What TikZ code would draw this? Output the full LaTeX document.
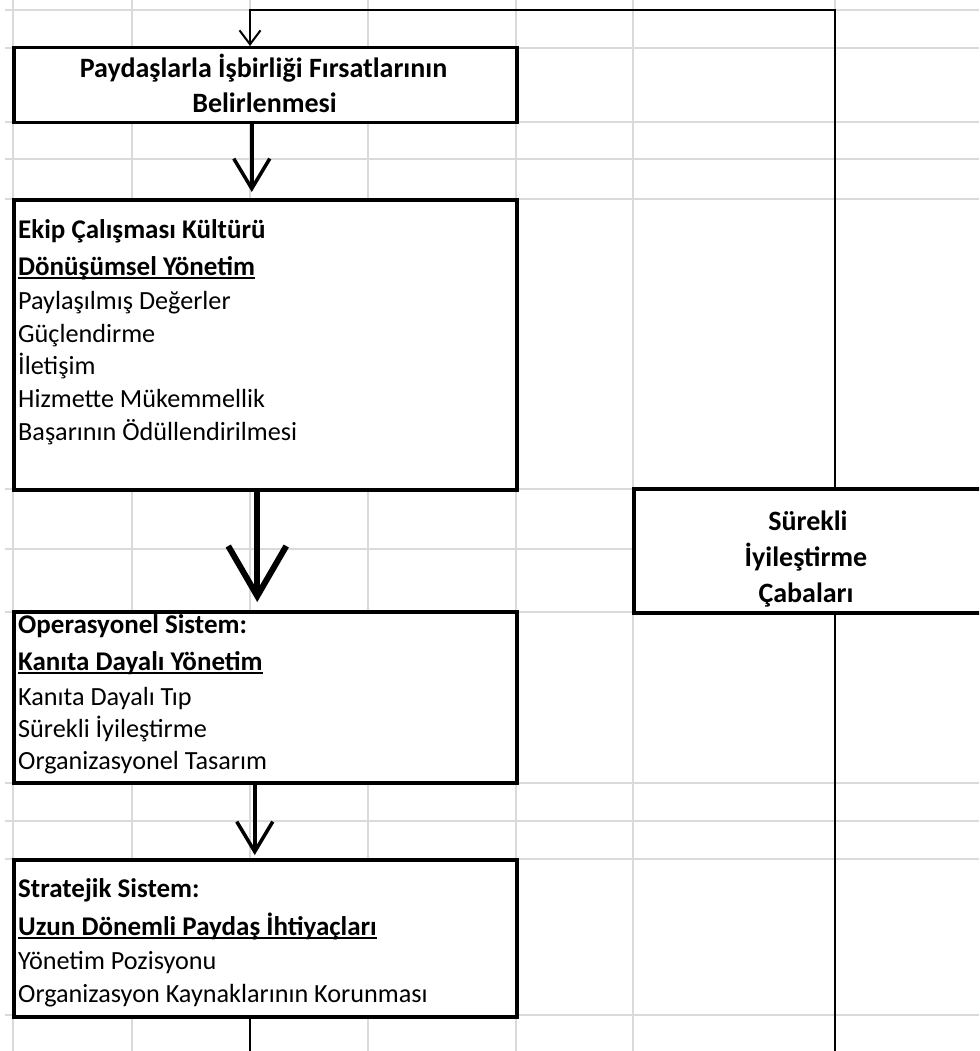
\documentclass[tikz,border=0pt]{standalone}
\usepackage{fontspec}
\setmainfont{Carlito}
\usetikzlibrary{arrows.meta}

\definecolor{izgara}{HTML}{DADADA}
\newsavebox{\cizgikutu}
\newcommand{\altciz}[1]{\sbox{\cizgikutu}{#1}\rlap{\usebox{\cizgikutu}}\rule[-3.5pt]{\wd\cizgikutu}{1.6pt}}

\tikzset{
  kutu/.style={draw, line width=3.5pt, fill=white, anchor=north west, inner sep=0pt},
  madde/.style={anchor=base west, inner sep=0pt, font=\fontsize{26.2}{33}\selectfont},
  orta/.style={anchor=base, inner sep=0pt, font=\fontsize{28}{33}\selectfont\bfseries},
  ok/.style={line width=3.5pt, -{Straight Barb[length=30pt,width=36pt]}, shorten >=6pt},
  kalinok/.style={line width=6pt, -{Straight Barb[length=50pt,width=58pt]}, shorten >=8pt},
  donus/.style={line width=2pt},
  donusok/.style={line width=2pt, -{Straight Barb[length=14pt,width=21pt]}}
}

\begin{document}
\begin{tikzpicture}[x=1pt,y=-1pt]
        \useasboundingbox (0,0) rectangle (979,1051);
        \clip (0,0) rectangle (979,1051);
        % tablo izgarasi
        \foreach \gx in {13,132,250,368,516,633,835}
            \draw[izgara, line width=1.2pt] (\gx,0) -- (\gx,1051);
        \foreach \gy in {10,48,122,159,199,489,549,612,783,821,859,1015}
            \draw[izgara, line width=1.2pt] (5,\gy) -- (979,\gy);

        % kutular
        \node[kutu, minimum width=503pt, minimum height=75pt] (firsat) at (12,46) {};
        \node[kutu, minimum width=503pt, minimum height=290pt] (ekip) at (12,198) {};
        \node[kutu, minimum width=503pt, minimum height=171pt] (operasyon) at (12,610) {};
        \node[kutu, minimum width=503pt, minimum height=157pt] (strateji) at (12,858) {};
        \node[kutu, minimum width=358pt, minimum height=124pt] (iyilestirme) at (632,487) {};

        \node[orta] (firsat-1) at (263.5,78) {Paydaşlarla İşbirliği Fırsatlarının};
        \node[orta] (firsat-2) at (264.5,113) {Belirlenmesi};
        \node[orta] (iyi-1) at (808,530) {Sürekli};
        \node[orta] (iyi-2) at (806,566) {İyileştirme};
        \node[orta] (iyi-3) at (806,602) {Çabaları};

        \foreach \satir/\y [count=\i] in {{\textbf{\fontsize{27}{33}\selectfont Ekip Çalışması Kültürü}}/238,
            {\textbf{\fontsize{27}{33}\selectfont\altciz{Dönüşümsel Yönetim}}}/275, Paylaşılmış Değerler/309,
            Güçlendirme/342, İletişim/374, Hizmette Mükemmellik/407,
            Başarının Ödüllendirilmesi/440}
            \node[madde] (ekip-\i) at (18,\y) {\satir};
        \foreach \satir/\y [count=\i] in {{\textbf{\fontsize{27}{33}\selectfont Operasyonel Sistem:}}/633,
            {\textbf{\fontsize{27}{33}\selectfont\altciz{Kanıta Dayalı Yönetim}}}/670, Kanıta Dayalı Tıp/705,
            Sürekli İyileştirme/737, Organizasyonel Tasarım/769}
            \node[madde] (operasyon-\i) at (18,\y) {\satir};
        \foreach \satir/\y [count=\i] in {{\textbf{\fontsize{27}{33}\selectfont Stratejik Sistem:}}/897,
            {\textbf{\fontsize{27}{33}\selectfont\altciz{Uzun Dönemli Paydaş İhtiyaçları}}}/935,
            Yönetim Pozisyonu/969, Organizasyon Kaynaklarının Korunması/1002}
            \node[madde] (strateji-\i) at (18,\y) {\satir};

        % oklar
        \draw[ok] ([xshift=-13.5pt]firsat.south) -- ([xshift=-13.5pt]ekip.north);
        \draw[kalinok] ([xshift=-8pt]ekip.south) -- ([xshift=-8pt]operasyon.north);
        \draw[ok, shorten >=3pt] ([xshift=-10.5pt]operasyon.south) -- ([xshift=-10.5pt]strateji.north);

        % geri besleme dongusu
        \coordinate (ust-sol) at (250,10);
        \coordinate (ust-sag) at (835,10);
        \coordinate (alt-sol) at (250,1070);
        \coordinate (alt-sag) at (835,1070);
        \draw[donus] (strateji.south -| alt-sol) -- (alt-sol) -- (alt-sag) -- (iyilestirme.south -| alt-sag);
        \draw[donusok] (iyilestirme.north -| ust-sag) -- (ust-sag) -- (ust-sol) -- (firsat.north -| ust-sol);
\end{tikzpicture}
\end{document}
